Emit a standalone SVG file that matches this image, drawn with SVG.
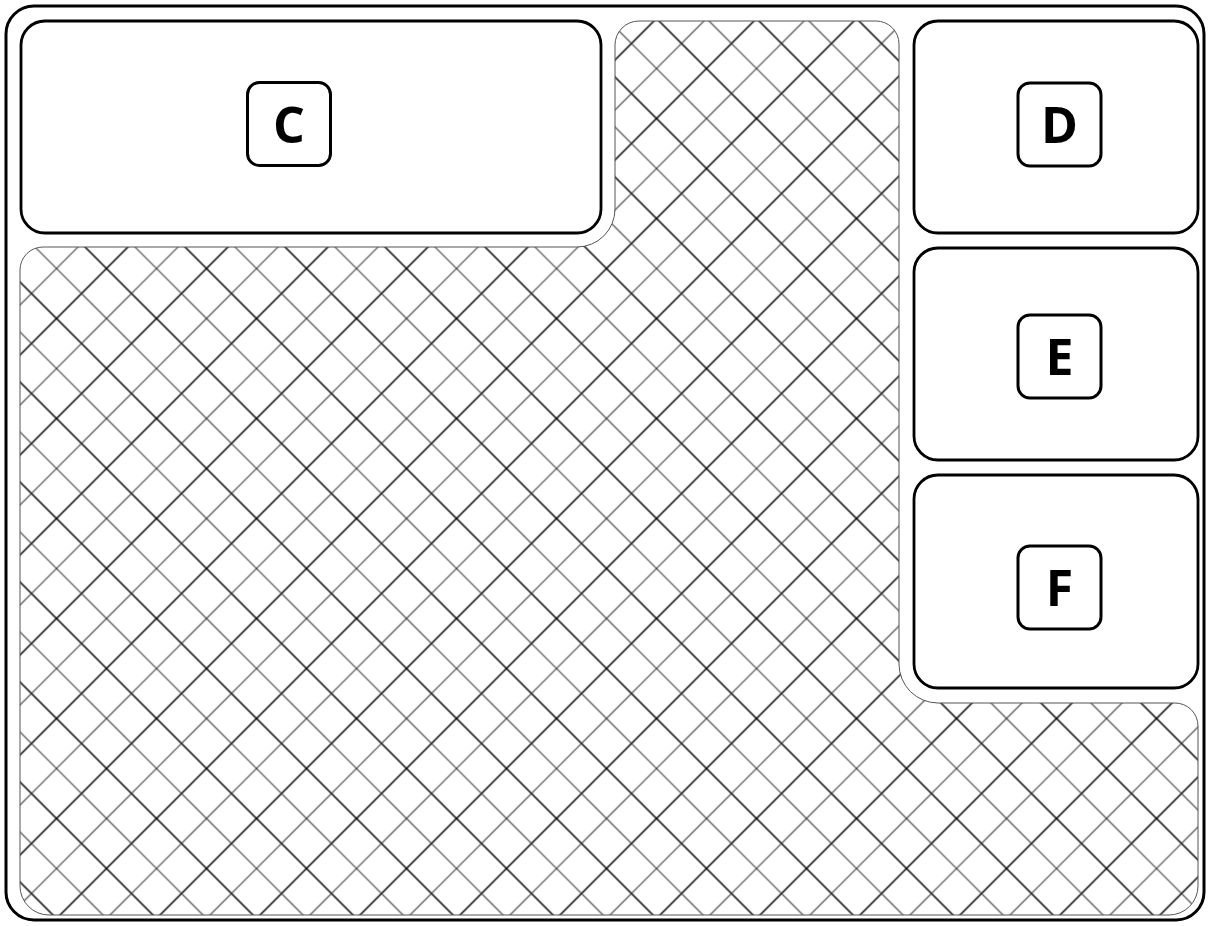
<svg xmlns="http://www.w3.org/2000/svg" width="1210" height="926" viewBox="0 0 1210 926">
  <style>
    .panel { fill: #ffffff; stroke: #000000; stroke-width: 2.8; }
    .tag { fill: #ffffff; stroke: #000000; stroke-width: 3; }
    .lbl { font-family: "Open Sans", "Noto Sans", "Liberation Sans", sans-serif; font-weight: bold; font-size: 50px; fill: #000000; text-anchor: middle; }
    .hd { stroke: #000000; stroke-width: 1.5; fill: none; }
    .hg { stroke: #3c3c3c; stroke-width: 1.15; fill: none; }
  </style>
  <defs>
    <pattern id="hatch" patternUnits="userSpaceOnUse" x="56.5" y="18.5" width="100" height="100">
      <line class="hd" x1="-10" y1="-10" x2="110" y2="110"/>
      <line class="hd" x1="-10" y1="110" x2="110" y2="-10"/>
      <line class="hd" x1="-10" y1="10" x2="10" y2="-10"/>
      <line class="hd" x1="90" y1="110" x2="110" y2="90"/>
      <line class="hd" x1="90" y1="-10" x2="110" y2="10"/>
      <line class="hd" x1="-10" y1="90" x2="10" y2="110"/>
      <line class="hg" x1="40" y1="-10" x2="110" y2="60"/>
      <line class="hg" x1="-10" y1="40" x2="60" y2="110"/>
      <line class="hg" x1="-10" y1="60" x2="60" y2="-10"/>
      <line class="hg" x1="40" y1="110" x2="110" y2="40"/>
    </pattern>
  </defs>

  <rect width="1210" height="926" fill="#ffffff"/>

  <g id="frame">
    <rect x="6" y="6" width="1198" height="914" rx="28" ry="28" fill="#ffffff" stroke="#000000" stroke-width="3"/>
  </g>

  <g id="hatched-area">
    <path d="M 639 21 L 876 21 A 23 23 0 0 1 899 44 L 899 664 A 39 39 0 0 0 938 703 L 1175 703 A 23 23 0 0 1 1198 726 L 1198 886 A 29 29 0 0 1 1169 915 L 49 915 A 29 29 0 0 1 20 886 L 20 270 A 23 23 0 0 1 43 247 L 577 247 A 38 38 0 0 0 615 209 L 615 45 A 24 24 0 0 1 639 21 Z" fill="url(#hatch)" stroke="#555555" stroke-width="1"/>
  </g>

  <g id="node-C">
    <rect class="panel" x="21" y="21" width="580" height="212" rx="24" ry="24"/>
    <rect class="tag" x="247.5" y="82.5" width="83" height="83" rx="12" ry="12"/>
    <text class="lbl" x="289" y="143">C</text>
  </g>

  <g id="node-D">
    <rect class="panel" x="914" y="21" width="284" height="212" rx="24" ry="24"/>
    <rect class="tag" x="1018" y="83" width="83" height="83" rx="12" ry="12"/>
    <text class="lbl" x="1059.5" y="143">D</text>
  </g>

  <g id="node-E">
    <rect class="panel" x="914" y="248" width="284" height="212" rx="24" ry="24"/>
    <rect class="tag" x="1018" y="315" width="83" height="83" rx="12" ry="12"/>
    <text class="lbl" x="1059.5" y="375">E</text>
  </g>

  <g id="node-F">
    <rect class="panel" x="914" y="475" width="284" height="213" rx="24" ry="24"/>
    <rect class="tag" x="1018" y="546" width="83" height="83" rx="12" ry="12"/>
    <text class="lbl" x="1059.5" y="606">F</text>
  </g>
</svg>
